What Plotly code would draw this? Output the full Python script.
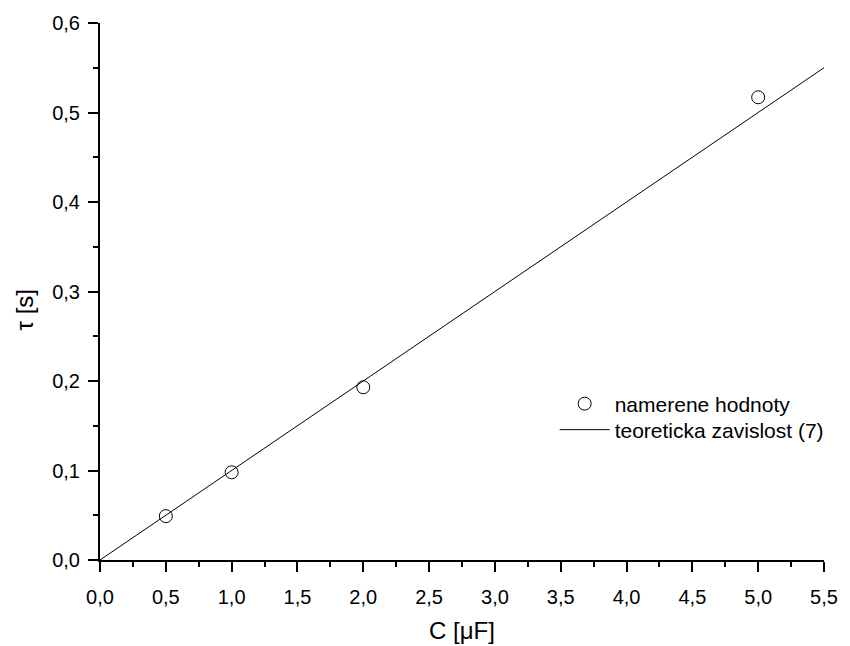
import plotly.graph_objects as go

meas_x = [0.5, 1.0, 2.0, 5.0]
meas_y = [0.049, 0.098, 0.193, 0.517]
theory_x = [0.0, 5.5]
theory_y = [0.0, 0.55]
x_title = "C [μF]"
y_title = "τ [s]"

font = "Liberation Sans, Arial, sans-serif"

fig = go.Figure()
fig.add_trace(go.Scatter(
    x=meas_x, y=meas_y, mode="markers", name="namerene hodnoty",
    marker=dict(symbol="circle-open", size=13, color="black", line=dict(width=1, color="black")),
    legend="legend",
))
fig.add_trace(go.Scatter(
    x=theory_x, y=theory_y, mode="lines", name="teoreticka zavislost (7)",
    line=dict(color="black", width=1),
    legend="legend2",
))

axis_common = dict(
    showline=True, linecolor="black", linewidth=2, mirror=False,
    showgrid=False, zeroline=False,
    ticks="outside", ticklen=10, tickwidth=2, tickcolor="black",
    tickfont=dict(family=font, size=20, color="black"),
    tickformat=".1f",
)

leg_common = dict(
    xanchor="left", yanchor="middle",
    font=dict(family=font, size=21, color="black"),
    bgcolor="rgba(0,0,0,0)", itemwidth=50,
)

fig.update_layout(
    width=850, height=646,
    margin=dict(l=100, r=21, t=23, b=86),
    paper_bgcolor="white", plot_bgcolor="white",
    separators=",.",
    showlegend=True,
    legend=dict(leg_common, x=0.628, y=0.2905),
    legend2=dict(leg_common, x=0.628, y=0.2421),
    xaxis=dict(
        axis_common, range=[0, 5.5], dtick=0.5, tick0=0,
        ticklabelstandoff=8,
        minor=dict(ticks="outside", ticklen=5, tickwidth=2, tickcolor="black", dtick=0.25, showgrid=False),
    ),
    yaxis=dict(
        axis_common, range=[0, 0.6], dtick=0.1, tick0=0,
        ticklabelstandoff=4,
        minor=dict(ticks="outside", ticklen=5, tickwidth=2, tickcolor="black", dtick=0.05, showgrid=False),
    ),
    annotations=[
        dict(text=x_title, xref="paper", yref="paper", x=0.5, y=-0.1304,
             xanchor="center", yanchor="middle", showarrow=False,
             font=dict(family=font, size=24, color="black")),
        dict(text=y_title, xref="paper", yref="paper", x=-0.1043, y=0.4655,
             xanchor="center", yanchor="middle", showarrow=False, textangle=-90,
             font=dict(family=font, size=24, color="black")),
    ],
)

fig.write_html("out.html")
